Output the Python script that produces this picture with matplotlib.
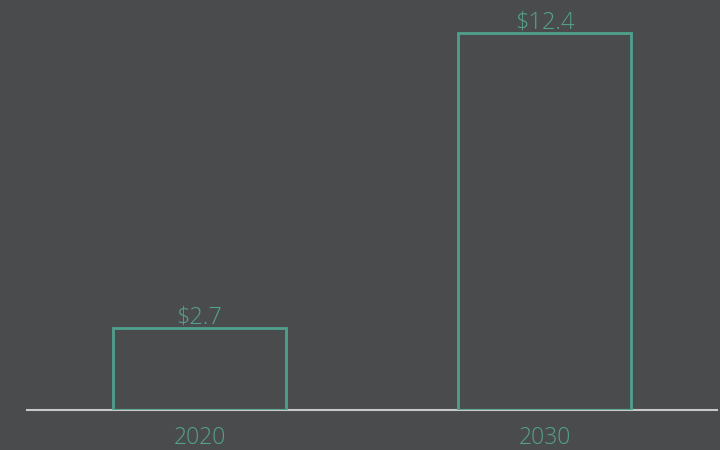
import matplotlib.pyplot as plt

years = ['2020', '2030']
values = [2.7, 12.4]
labels = ['$2.7', '$12.4']

bg = '#4a4b4d'
teal = '#4fa08c'
text_teal = '#55a18c'
font = ['Open Sans', 'DejaVu Sans']

fig = plt.figure(figsize=(7.2, 4.5), dpi=100, facecolor=bg)
ax = fig.add_axes([27 / 720, 40 / 450, 690 / 720, 410 / 450])
ax.set_facecolor(bg)

x = range(len(years))
bars = ax.bar(x, values, width=0.5, facecolor='none', edgecolor=teal, linewidth=2)

for b, lab in zip(bars, labels):
    ax.annotate(lab, (b.get_x() + b.get_width() / 2, b.get_height()),
                xytext=(0, -1), textcoords='offset points', ha='center', va='bottom',
                color=text_teal, fontsize=17, family=font, fontweight='light')

ax.set_xlim(-0.5, 1.5)
ax.set_ylim(0, 410 / 30.4)
ax.set_xticks(list(x))
ax.set_xticklabels(years, color=text_teal, fontsize=16.5, family=font, fontweight='light')
ax.tick_params(axis='x', length=0, pad=11.5)
ax.set_yticks([])

for s in ['top', 'right', 'left']:
    ax.spines[s].set_visible(False)
ax.spines['bottom'].set_color('#c8c8c8')
ax.spines['bottom'].set_linewidth(1.5)
ax.spines['bottom'].set_zorder(0)

fig.savefig('out.png', dpi=100, facecolor=bg)
